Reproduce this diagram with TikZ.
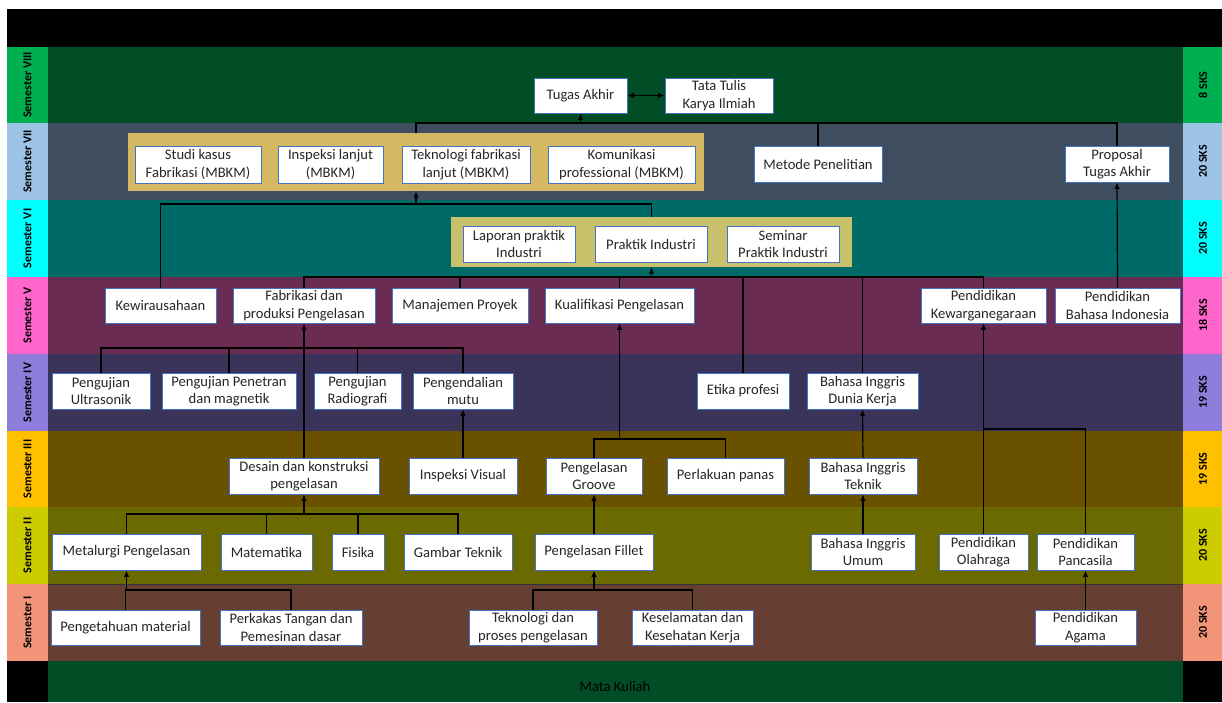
\documentclass[tikz,border=0pt]{standalone}
\usepackage{fontspec}
\setmainfont{Carlito}
\usetikzlibrary{arrows.meta}
\definecolor{bandVIII}{RGB}{0,77,38}
\definecolor{bandVII}{RGB}{62,78,94}
\definecolor{bandVI}{RGB}{0,106,102}
\definecolor{bandV}{RGB}{106,44,83}
\definecolor{bandIV}{RGB}{59,52,90}
\definecolor{bandIII}{RGB}{106,81,0}
\definecolor{bandII}{RGB}{106,106,0}
\definecolor{bandI}{RGB}{103,62,50}
\definecolor{labVIII}{RGB}{0,176,80}
\definecolor{labVII}{RGB}{157,195,230}
\definecolor{labVI}{RGB}{0,255,255}
\definecolor{labV}{RGB}{255,102,204}
\definecolor{labIV}{RGB}{143,125,220}
\definecolor{labIII}{RGB}{255,192,0}
\definecolor{labII}{RGB}{204,204,0}
\definecolor{labI}{RGB}{242,148,120}
\definecolor{grpseven}{RGB}{212,184,98}
\definecolor{grpsix}{RGB}{200,192,106}
\definecolor{boxblue}{RGB}{68,114,196}
\definecolor{txt}{RGB}{38,38,38}
\begin{document}
\begin{tikzpicture}[x=1pt,y=-1pt,
  box/.style={draw=boxblue, line width=0.8pt, fill=white, inner sep=1pt, align=center,
    font=\fontsize{14.6}{17.4}\selectfont, text=txt},
  grp/.style={inner sep=0pt},
  lab/.style={rotate=90, font=\bfseries\fontsize{12}{14}\selectfont, text=black},
  conn/.style={line width=1.2pt, draw=black},
  arr/.style={conn, -{Latex[length=6.5pt,width=5.5pt]}},
  dbl/.style={conn, {Latex[length=6.5pt,width=5.5pt]}-{Latex[length=6.5pt,width=5.5pt]}}]
\useasboundingbox (0,0) rectangle (1222,702);
\fill[white] (0,0) rectangle (1222,702);
% top band
\fill[black] (7,9) rectangle (1222,47);
% main bands
\fill[bandVIII] (48,47) rectangle (1183,123);
\fill[bandVII] (48,123) rectangle (1183,200);
\fill[bandVI] (48,200) rectangle (1183,277);
\fill[bandV] (48,277) rectangle (1183,354);
\fill[bandIV] (48,354) rectangle (1183,431);
\fill[bandIII] (48,431) rectangle (1183,507);
\fill[bandII] (48,507) rectangle (1183,584);
\fill[bandI] (48,584) rectangle (1183,661);
\fill[bandVIII] (48,661) rectangle (1183,702);
\draw[line width=0.8pt, black!80] (48,584) -- (1183,584);
% side columns
\foreach \c/\a/\b in {labVIII/47/123, labVII/123/200, labVI/200/277, labV/277/354, labIV/354/431, labIII/431/507, labII/507/584, labI/584/661}{
  \fill[\c] (7,\a) rectangle (48,\b);
  \fill[\c] (1183,\a) rectangle (1222,\b);
}
\fill[black] (7,661) rectangle (48,702);
\fill[black] (1183,661) rectangle (1222,702);
% labels
\node[lab] (sVIII) at (27.5,85) {Semester VIII};
\node[lab] (sVII) at (27.5,161.5) {Semester VII};
\node[lab] (sVI) at (27.5,238.5) {Semester VI};
\node[lab] (sV) at (27.5,315.5) {Semester V};
\node[lab] (sIV) at (27.5,392.5) {Semester IV};
\node[lab] (sIII) at (27.5,469) {Semester III};
\node[lab] (sII) at (27.5,545.5) {Semester II};
\node[lab] (sI) at (27.5,622.5) {Semester I};
\node[lab] (kVIII) at (1203,85) {8 SKS};
\node[lab] (kVII) at (1203,161.5) {20 SKS};
\node[lab] (kVI) at (1203,238.5) {20 SKS};
\node[lab] (kV) at (1203,315.5) {18 SKS};
\node[lab] (kIV) at (1203,392.5) {19 SKS};
\node[lab] (kIII) at (1203,469) {19 SKS};
\node[lab] (kII) at (1203,545.5) {20 SKS};
\node[lab] (kI) at (1203,622.5) {20 SKS};
\node[font=\fontsize{14.6}{17}\selectfont, text=black] (mk) at (615,686) {Mata Kuliah};
% groups
\node[grp, fill=grpseven, minimum width=576pt, minimum height=58pt] (grpVII) at (416,162) {};
\node[grp, fill=grpsix, minimum width=401pt, minimum height=50pt] (grpVI) at (651.5,242) {};
% Semester VIII
\node[box, minimum width=93pt, minimum height=35pt] (tugas) at (580.5,95.5) {Tugas Akhir};
\node[box, minimum width=108pt, minimum height=35pt] (tata) at (719,95.5) {Tata Tulis\\Karya Ilmiah};
% Semester VII
\node[box, minimum width=126pt, minimum height=37pt] (studi) at (198,164.5) {Studi kasus\\Fabrikasi (MBKM)};
\node[box, minimum width=105pt, minimum height=37pt] (inspL) at (330.5,164.5) {Inspeksi lanjut\\(MBKM)};
\node[box, minimum width=128pt, minimum height=37pt] (teknoL) at (466,164.5) {Teknologi fabrikasi\\lanjut (MBKM)};
\node[box, minimum width=147pt, minimum height=37pt] (komun) at (621.5,164.5) {Komunikasi\\professional (MBKM)};
\node[box, minimum width=128pt, minimum height=36pt] (metode) at (818,164) {Metode Penelitian};
\node[box, minimum width=104pt, minimum height=36pt] (proposal) at (1117,164) {Proposal\\Tugas Akhir};
% Semester VI
\node[box, minimum width=112pt, minimum height=36pt] (laporan) at (519,244) {Laporan praktik\\Industri};
\node[box, minimum width=112pt, minimum height=36pt] (praktik) at (651,244) {Praktik Industri};
\node[box, minimum width=112pt, minimum height=36pt] (seminar) at (783,244) {Seminar\\Praktik Industri};
% Semester V
\node[box, minimum width=111pt, minimum height=35pt] (kewira) at (160.5,305.5) {Kewirausahaan};
\node[box, minimum width=142pt, minimum height=35pt] (fabrik) at (304,305.5) {Fabrikasi dan\\produksi Pengelasan};
\node[box, minimum width=136pt, minimum height=35pt] (manaj) at (460,305.5) {Manajemen Proyek};
\node[box, minimum width=149pt, minimum height=35pt] (kualif) at (619.5,305.5) {Kualifikasi Pengelasan};
\node[box, minimum width=125pt, minimum height=35pt] (kewarga) at (983.5,305.5) {Pendidikan\\Kewarganegaraan};
\node[box, minimum width=125pt, minimum height=35pt] (bindo) at (1117.5,305.5) {Pendidikan\\Bahasa Indonesia};
% Semester IV
\node[box, minimum width=98pt, minimum height=36pt] (ultra) at (101,391) {Pengujian\\Ultrasonik};
\node[box, minimum width=134pt, minimum height=36pt] (penetran) at (229,391) {Pengujian Penetran\\dan magnetik};
\node[box, minimum width=87pt, minimum height=36pt] (radio) at (357.5,391) {Pengujian\\Radiografi};
\node[box, minimum width=100pt, minimum height=36pt] (mutu) at (463,391) {Pengendalian\\mutu};
\node[box, minimum width=92pt, minimum height=36pt] (etika) at (743,391) {Etika profesi};
\node[box, minimum width=111pt, minimum height=36pt] (bidk) at (862.5,391) {Bahasa Inggris\\Dunia Kerja};
% Semester III
\node[box, minimum width=150pt, minimum height=36pt] (desain) at (304,476) {Desain dan konstruksi\\pengelasan};
\node[box, minimum width=108pt, minimum height=36pt] (visual) at (463,476) {Inspeksi Visual};
\node[box, minimum width=96pt, minimum height=36pt] (groove) at (594,476) {Pengelasan\\Groove};
\node[box, minimum width=117pt, minimum height=36pt] (panas) at (725.5,476) {Perlakuan panas};
\node[box, minimum width=108pt, minimum height=36pt] (bitek) at (863,476) {Bahasa Inggris\\Teknik};
% Semester II
\node[box, minimum width=149pt, minimum height=36pt] (metal) at (126.5,552) {Metalurgi Pengelasan};
\node[box, minimum width=91pt, minimum height=36pt] (mat) at (266.5,552) {Matematika};
\node[box, minimum width=52pt, minimum height=36pt] (fis) at (358,552) {Fisika};
\node[box, minimum width=108pt, minimum height=36pt] (gambar) at (458,552) {Gambar Teknik};
\node[box, minimum width=118pt, minimum height=36pt] (fillet) at (594,552) {Pengelasan Fillet};
\node[box, minimum width=104pt, minimum height=36pt] (biumum) at (863,552) {Bahasa Inggris\\Umum};
\node[box, minimum width=89pt, minimum height=36pt] (olah) at (983.5,552) {Pendidikan\\Olahraga};
\node[box, minimum width=97pt, minimum height=36pt] (panca) at (1085.5,552) {Pendidikan\\Pancasila};
% Semester I
\node[box, minimum width=149pt, minimum height=35pt] (material) at (125.5,627.5) {Pengetahuan material};
\node[box, minimum width=142pt, minimum height=35pt] (perkakas) at (291,627.5) {Perkakas Tangan dan\\Pemesinan dasar};
\node[box, minimum width=128pt, minimum height=35pt] (teknop) at (533,627.5) {Teknologi dan\\proses pengelasan};
\node[box, minimum width=121pt, minimum height=35pt] (kkk) at (692.5,627.5) {Keselamatan dan\\Kesehatan Kerja};
\node[box, minimum width=101pt, minimum height=35pt] (agama) at (1085.5,627.5) {Pendidikan\\Agama};
% bus coordinates
\coordinate (b8) at (0,123);
\coordinate (b7) at (0,204);
\coordinate (b6) at (0,277);
\coordinate (b5) at (0,348);
\coordinate (b4) at (0,439);
\coordinate (b3) at (0,429);
\coordinate (b2) at (0,514);
\coordinate (b1) at (0,590);
% connectors
\draw[dbl] (tugas.east) -- (tata.west);
\draw[conn] (grpVII.north) -- (grpVII.north |- b8) -- (proposal.north |- b8) -- (proposal.north);
\draw[conn] (metode.north) -- (metode.north |- b8);
\draw[arr] (tugas.south |- b8) -- (tugas.south);
\draw[conn] (kewira.north) -- (kewira.north |- b7) -- (grpVI.north |- b7) -- (grpVI.north);
\draw[arr] (grpVII.south |- b7) -- (grpVII.south);
\draw[conn] (fabrik.north) -- (fabrik.north |- b6) -- (kewarga.north |- b6) -- (kewarga.north);
\draw[conn] (manaj.north) -- (manaj.north |- b6);
\draw[conn] (kualif.north) -- (kualif.north |- b6);
\draw[conn] (etika.north) -- (etika.north |- b6);
\draw[conn] (bidk.north) -- (bidk.north |- b6);
\draw[arr] (grpVI.south |- b6) -- (grpVI.south);
\draw[arr] (bindo.north) -- (proposal.south);
\draw[conn] (ultra.north) -- (ultra.north |- b5) -- (mutu.north |- b5) -- (mutu.north);
\draw[conn] (penetran.north) -- (penetran.north |- b5);
\draw[conn] (radio.north) -- (radio.north |- b5);
\draw[arr] (desain.north) -- (fabrik.south);
\draw[conn] (groove.north) -- (groove.north |- b4) -- (panas.north |- b4) -- (panas.north);
\draw[arr] (kualif.south |- b4) -- (kualif.south);
\draw[arr] (visual.north) -- (mutu.south);
\draw[arr] (bitek.north) -- (bidk.south);
\draw[arr] (biumum.north) -- (bitek.south);
\draw[arr] (olah.north) -- (kewarga.south);
\draw[conn] (panca.north) -- (panca.north |- b3) -- (olah.north |- b3);
\draw[arr] (agama.north) -- (panca.south);
\draw[conn] (metal.north) -- (metal.north |- b2) -- (gambar.north |- b2) -- (gambar.north);
\draw[conn] (mat.north) -- (mat.north |- b2);
\draw[conn] (fis.north) -- (fis.north |- b2);
\draw[arr] (desain.south |- b2) -- (desain.south);
\draw[arr] (groove.south |- fillet.north) -- (groove.south);
\draw[conn] (material.north) -- (material.north |- b1) -- (perkakas.north |- b1) -- (perkakas.north);
\draw[arr] (metal.south |- b1) -- (metal.south);
\draw[conn] (teknop.north) -- (teknop.north |- b1) -- (kkk.north |- b1) -- (kkk.north);
\draw[arr] (fillet.south |- b1) -- (fillet.south);
\end{tikzpicture}
\end{document}
